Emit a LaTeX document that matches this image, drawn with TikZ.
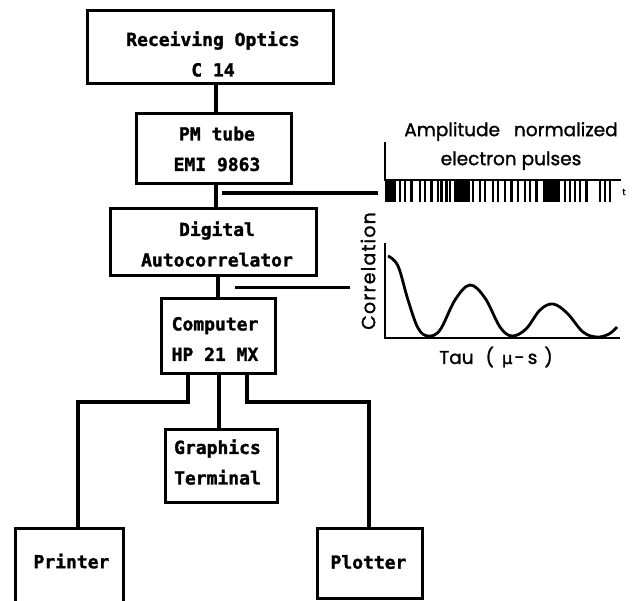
\documentclass[tikz,border=0pt]{standalone}
\usepackage{fontspec}
\newfontfamily\boxfont[BoldFeatures={FakeBold=1.6}]{DejaVu Sans Mono}
\newfontfamily\labelfont[FakeBold=1.3]{Poppins}
\newfontfamily\greekfont[FakeBold=1.3]{DejaVu Sans}
\begin{document}
\begin{tikzpicture}[x=1pt,y=-1pt,
  box/.style={draw, line width=3pt, inner sep=0pt, outer sep=0pt},
  boxtext/.style={font=\boxfont\bfseries\fontsize{18}{30.5}\selectfont, align=center, inner sep=0pt},
  wire/.style={line width=3.2pt},
  axis/.style={line width=2.8pt},
  plotlabel/.style={font=\labelfont\fontsize{18.5}{29}\selectfont, align=center, inner sep=0pt},
  pulse/.style={line width=2.1pt}]
\clip (0,0) rectangle (640,600);

% ---- block boxes (x from left, y from top)
\node[box, minimum width=246pt, minimum height=73pt] (optics) at (210,46.5) {};
\node[box, minimum width=155pt, minimum height=70pt] (pm) at (213.5,148) {};
\node[box, minimum width=206pt, minimum height=67pt] (dig) at (213,241.5) {};
\node[box, minimum width=114pt, minimum height=75pt] (comp) at (218,335.5) {};
\node[box, minimum width=112pt, minimum height=73pt] (gfx) at (221,465.5) {};
\node[box, minimum width=108pt, minimum height=80pt] (prn) at (69,568) {};
\node[box, minimum width=105pt, minimum height=70pt] (plt) at (369.5,563) {};

% ---- block labels
\node[boxtext] (opticsT) at (213,54) {Receiving Optics\\C 14};
\node[boxtext] (pmT) at (217,149) {PM tube\\EMI 9863};
\node[boxtext] (digT) at (217,244) {Digital\\Autocorrelator};
\node[boxtext] (compT) at (215,339) {Computer\\HP 21 MX};
\node[boxtext] (gfxT) at (217.5,462) {Graphics\\Terminal};
\node[boxtext] (prnT) at (71.5,561) {Printer};
\node[boxtext] (pltT) at (368.5,562) {Plotter};

% ---- signal chain
\coordinate (spine) at (216,0);
\draw[wire] (optics.south -| spine) -- (pm.north -| spine);
\draw[wire] (pm.south -| spine) -- (dig.north -| spine);
\draw[wire] ([xshift=2pt]dig.south -| spine) -- ([xshift=2pt]comp.north -| spine);
\draw[wire] ([xshift=3pt]comp.south -| spine) -- ([xshift=3pt]gfx.north -| spine);

% ---- output branches
\coordinate (busL) at (188,402);
\coordinate (busR) at (247,402);
\coordinate (prnIn) at (78,0);
\coordinate (pltIn) at (369,0);
\draw[wire] (comp.south -| busL) -- (busL) -| (prn.north -| prnIn);
\draw[wire] (comp.south -| busR) -- (busR) -| (plt.north -| pltIn);

% ---- pulse train inset
\coordinate (pAxis) at (385,180);
\coordinate (pEnd) at (621,180);
\coordinate (tapA) at (222,193);
\coordinate (tapAend) at (378,193);
\draw[wire] (tapA) -- (tapAend);
\draw[axis] (385,142) -- (pAxis) -- (pEnd);
\foreach \px in {400,405,411.5,420,425,431.5,438,441.5,446.5,450,
                 473,480,485,493,498,505,511.5,518,525,530,536.5,
                 565,570,575,580,586.5,600,605,610}
  \draw[pulse] (\px,180) -- (\px,202);
\fill (385,180) rectangle (396,202);
\fill (454,180) rectangle (470,202);
\fill (543,180) rectangle (560,202);
\node[font=\labelfont\fontsize{9}{9}\selectfont, inner sep=0pt] (tLbl) at (624,192) {t};
\node[plotlabel] (pulseT) at (511,146) {Amplitude\hspace{14pt}normalized\\electron pulses};

% ---- correlation inset
\coordinate (tapB) at (235,287.5);
\coordinate (tapBend) at (350,287.5);
\draw[wire] (tapB) -- (tapBend);
\draw[axis] (385,243) -- (385,338) -- (620,338);
\draw[line width=2.8pt] plot[smooth, tension=0.6] coordinates {
  (388,256) (398,266) (408,300) (418,328) (428,336) (440,330)
  (455,300) (470,285) (485,298) (500,327) (512,336) (526,329)
  (540,310) (553,304) (567,313) (583,332) (597,337) (609,334) (617,327)};
\node[plotlabel, rotate=90, font=\labelfont\fontsize{19}{19}\selectfont\addfontfeatures{LetterSpace=6}] (corrT) at (368,271) {Correlation};
\node[plotlabel] (tauT) at (496,357) {Tau\hspace{12pt}(\hspace{8pt}{\greekfont\fontsize{16.5}{16}\selectfont μ}\hspace{2pt}-\hspace{3pt}s\hspace{7pt})};
\end{tikzpicture}
\end{document}
